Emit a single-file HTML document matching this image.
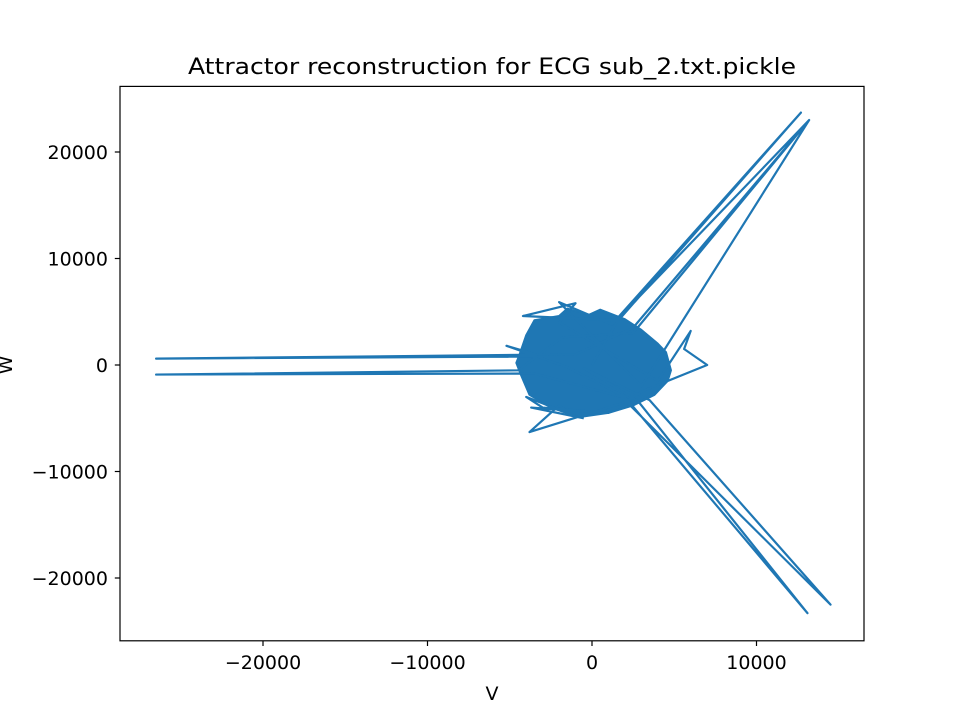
<!DOCTYPE html>
<html><head><meta charset="utf-8"><style>
body{margin:0;background:#fff}
svg text{font-family:"DejaVu Sans","Liberation Sans",sans-serif;fill:#000}
</style></head><body>
<svg id="chart" width="960" height="720" xmlns="http://www.w3.org/2000/svg">
<rect width="960" height="720" fill="#fff"/>
<text x="492" y="74" style="font-size:22.5px" text-anchor="middle" textLength="608" lengthAdjust="spacingAndGlyphs">Attractor reconstruction for ECG sub_2.txt.pickle</text>
<g id="plot"></g>
<rect x="120" y="86.4" width="744" height="554.4" fill="none" stroke="#000" stroke-width="1.2"/>
<g id="axes"></g>
<text x="492" y="700" style="font-size:19px" text-anchor="middle">V</text>
<text x="0" y="0" style="font-size:19px" text-anchor="middle" transform="translate(12,365) rotate(-90)">W</text>
</svg>
<script>
const xTicks=[-20000,-10000,0,10000];
const yTicks=[-20000,-10000,0,10000,20000];
const coreV=[-3500,-2000,-1500,-200,500,1500,2000,3000,4000,4500,4800,4600,3800,2500,1000,-800,-2500,-3800,-4300,-4600,-4400,-4000];
const coreW=[4200,4600,5300,4700,5200,4600,4300,3300,2000,1200,-500,-1500,-2800,-3800,-4500,-4900,-4000,-2800,-1000,200,1000,2800];
const traceV=[0,1500,12700,1200,-2000,3000,13200,2500,-1000,-26500,-3000,-5200,-1500,2000,13100,2800,-500,3500,14500,1800,-3500,-26500,-4500,-1800,2500,13200,1500,-4200,-1000,-2000,4000,6000,5600,7000,3000,2000,-3800,-2000,-1000,-4000,-3000,1000,-3700,-500];
const traceW=[0,4000,23700,3800,5900,-2000,23000,3500,1000,600,800,1800,-200,-3000,-23300,-3400,-300,-3300,-22500,-3000,-800,-900,-500,2600,3000,23000,4200,4600,5800,4000,-1500,3200,1500,0,-2500,-3500,-6300,-3800,-4800,-3000,-4000,-4500,-4000,-5000];
const X=v=>592+v*0.01645, Y=w=>365-w*0.01065;
const ns="http://www.w3.org/2000/svg";
const plot=document.getElementById('plot'), axes=document.getElementById('axes');
let d='';
for(let i=0;i<coreV.length;i++){d+=(i?'L':'M')+X(coreV[i])+','+Y(coreW[i]);}
const core=document.createElementNS(ns,'path');
core.setAttribute('d',d+'Z');core.setAttribute('fill','#1f77b4');core.setAttribute('stroke','#1f77b4');core.setAttribute('stroke-width','2');core.setAttribute('stroke-linejoin','round');


plot.appendChild(core);
let d2='';
for(let i=0;i<traceV.length;i++){d2+=(i?'L':'M')+X(traceV[i])+','+Y(traceW[i]);}
const tr=document.createElementNS(ns,'path');
tr.setAttribute('d',d2);tr.setAttribute('fill','none');tr.setAttribute('stroke','#1f77b4');tr.setAttribute('stroke-width','2.2');tr.setAttribute('stroke-linejoin','round');


plot.appendChild(tr);
function fmt(v){return v<0?'\u2212'+Math.abs(v):''+v;}
xTicks.forEach(v=>{
 const l=document.createElementNS(ns,'line');l.setAttribute('x1',X(v));l.setAttribute('x2',X(v));l.setAttribute('y1',640.8);l.setAttribute('y2',646);l.setAttribute('stroke','#000');l.setAttribute('stroke-width','1.2');
 
 
 axes.appendChild(l);
 const t=document.createElementNS(ns,'text');t.setAttribute('x',X(v));t.setAttribute('y',669);t.setAttribute('style','font-size:19px');t.setAttribute('text-anchor','middle');t.textContent=fmt(v);
 
 
 axes.appendChild(t);
});
yTicks.forEach(v=>{
 const l=document.createElementNS(ns,'line');l.setAttribute('x1',114.8);l.setAttribute('x2',120);l.setAttribute('y1',Y(v));l.setAttribute('y2',Y(v));l.setAttribute('stroke','#000');l.setAttribute('stroke-width','1.2');
 
 
 axes.appendChild(l);
 const t=document.createElementNS(ns,'text');t.setAttribute('x',108);t.setAttribute('y',Y(v)+7);t.setAttribute('style','font-size:19px');t.setAttribute('text-anchor','end');t.textContent=fmt(v);
 
 
 axes.appendChild(t);
});
</script>
</body></html>
